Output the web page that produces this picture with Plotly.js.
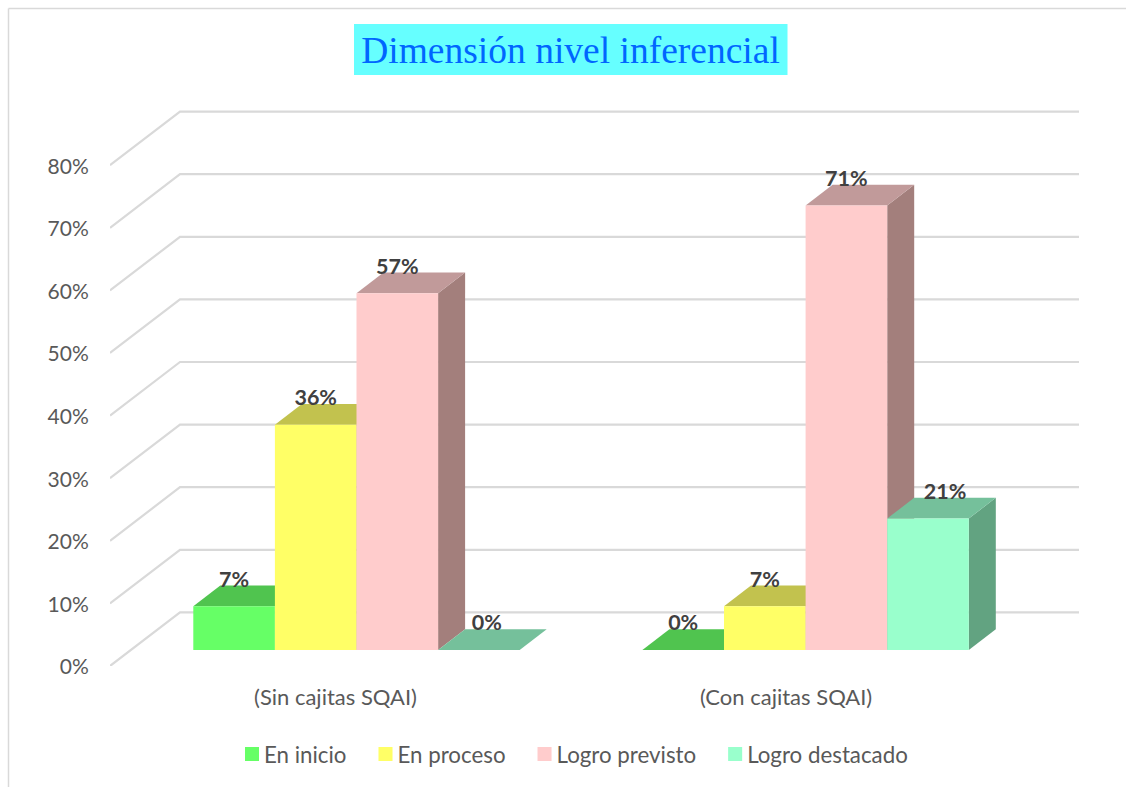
<!DOCTYPE html>
<html>
<head>
<meta charset="utf-8">
<script src="https://cdn.plot.ly/plotly-3.0.1.min.js"></script>
<style>html,body{margin:0;padding:0;background:#fff;overflow:hidden}#c{width:1126px;height:787px}</style>
</head>
<body>
<div id="c"></div>
<script>
// ---- data ----
const categories = ['(Sin cajitas SQAI)', '(Con cajitas SQAI)'];
const seriesNames = ['En inicio', 'En proceso', 'Logro previsto', 'Logro destacado'];
const enInicio = [7, 0];
const enProceso = [36, 7];
const logroPrevisto = [57, 71];
const logroDestacado = [0, 21];
const valueTicks = [0, 10, 20, 30, 40, 50, 60, 70, 80];

// ---- styles ----
const frontColors = ['#66FF66', '#FFFF66', '#FFCCCC', '#99FFCC'];
const topColors = ['#50C44F', '#C2C24E', '#C19A9A', '#75C09B'];
const sideColors = ['#3F9A3F', '#9A9A3F', '#A37F7C', '#62A381'];
const allSeries = [enInicio, enProceso, logroPrevisto, logroDestacado];

// ---- page geometry (px) and derived axis conversions ----
const W = 1126, H = 787;
const L = 110, R = 1090, T = 100, B = 666;
const pxPerPct = 6.26, pxPerCat = 449.1, cat0Px = 335.5;
const xRange = [(L - cat0Px) / pxPerCat, (R - cat0Px) / pxPerCat];
const yRange = [0, (B - T) / pxPerPct];
const dx = px => px / pxPerCat, dy = px => px / pxPerPct;
const paperX = px => (px - L) / (R - L);
const paperY = px => (B - px) / (B - T);

// oblique projection: a depth in px along x and the matching rise along y
const wallDepthX = dx(70), wallDepthY = dy(53.6);
const barFrontX = dx(21), barFrontY = dy(16);
const barDepthX = dx(27), barDepthY = dy(20.7);
const barW = dx(81.6);
const wallLeft = xRange[0], wallRight = dx(1079 - cat0Px);
const labelLift = dy(25);
const labelShiftX = [[0, 0], [0, 0], [0, 0], [dx(8), dx(17)]];

const barX = (c, s) => c + (s - 1.5) * barW + barFrontX;

const shapes = [];
// chart frame
const frame = {type: 'line', xref: 'paper', yref: 'paper', layer: 'below', line: {color: '#D9D9D9', width: 1.5}};
shapes.push(Object.assign({}, frame, {x0: paperX(8.5), x1: paperX(1126), y0: paperY(8.5), y1: paperY(8.5)}));
shapes.push(Object.assign({}, frame, {x0: paperX(8.5), x1: paperX(8.5), y0: paperY(8.5), y1: paperY(787)}));
// title box
shapes.push({type: 'rect', xref: 'paper', yref: 'paper', layer: 'below', line: {width: 0}, fillcolor: '#66FFFF',
  x0: paperX(354), x1: paperX(787.5), y0: paperY(75), y1: paperY(24)});
// walls
valueTicks.forEach(v => {
  shapes.push({type: 'path', layer: 'below', xref: 'x', yref: 'y', line: {color: '#D9D9D9', width: 2.2},
    path: `M${wallLeft},${v} L${wallLeft + wallDepthX},${v + wallDepthY} L${wallRight},${v + wallDepthY}`});
});
// side and top faces of every bar
const poly = pts => 'M' + pts.map(p => p.join(',')).join(' L') + ' Z';
allSeries.forEach((vals, s) => {
  vals.forEach((v, c) => {
    const x0 = barX(c, s) - barW / 2, x1 = barX(c, s) + barW / 2;
    const y0 = barFrontY, y1 = barFrontY + v;
    shapes.push({type: 'path', layer: 'below', xref: 'x', yref: 'y', line: {width: 0}, fillcolor: sideColors[s],
      path: poly([[x1, y0], [x1 + barDepthX, y0 + barDepthY], [x1 + barDepthX, y1 + barDepthY], [x1, y1]])});
    shapes.push({type: 'path', layer: 'below', xref: 'x', yref: 'y', line: {width: 0}, fillcolor: topColors[s],
      path: poly([[x0, y1], [x1, y1], [x1 + barDepthX, y1 + barDepthY], [x0 + barDepthX, y1 + barDepthY]])});
  });
});

// front faces
const traces = allSeries.map((vals, s) => ({
  type: 'bar', name: seriesNames[s],
  x: vals.map((v, c) => barX(c, s)),
  y: vals, base: vals.map(() => barFrontY), width: barW,
  marker: {color: frontColors[s], line: {width: 0}},
  hoverinfo: 'name+y'
}));
// data labels
allSeries.forEach((vals, s) => {
  traces.push({
    type: 'scatter', mode: 'text', showlegend: false, hoverinfo: 'skip',
    x: vals.map((v, c) => barX(c, s) + labelShiftX[s][c]),
    y: vals.map(v => barFrontY + v + labelLift),
    text: vals.map(v => v + '%'), textposition: 'middle center', cliponaxis: false,
    textfont: {family: 'Lato, sans-serif', size: 21.5, color: '#404040', weight: 700}
  });
});

const layout = {
  width: W, height: H, autosize: false,
  paper_bgcolor: '#FFFFFF', plot_bgcolor: 'rgba(0,0,0,0)',
  margin: {l: L, r: W - R, t: T, b: H - B, pad: 0},
  barmode: 'overlay',
  font: {family: 'Lato, sans-serif', color: '#595959', size: 20},
  title: {text: 'Dimensión nivel inferencial', font: {family: '"Liberation Serif", serif', size: 37.5, color: '#0066FF'},
    x: 570.5 / W, xref: 'container', xanchor: 'center', y: 1 - 50 / H, yref: 'container', yanchor: 'middle', pad: {t: 0, b: 0, l: 0, r: 0}},
  xaxis: {range: xRange, tickmode: 'array', tickvals: [0, 1 + dx(1.5)], ticktext: categories, showgrid: false, zeroline: false,
    showline: false, ticks: 'outside', ticklen: 12, tickcolor: 'rgba(0,0,0,0)', tickfont: {size: 22, color: '#595959'}},
  yaxis: {range: yRange, tickmode: 'array', tickvals: valueTicks, ticktext: valueTicks.map(v => v + '%'), showgrid: false, zeroline: false,
    showline: false, ticks: 'outside', ticklen: 16, tickcolor: 'rgba(0,0,0,0)', ticklabelshift: 1, tickfont: {size: 21, color: '#595959'}},
  legend: {orientation: 'h', x: paperX(218), xanchor: 'left', y: paperY(754), yanchor: 'middle', itemwidth: 36,
    font: {size: 22.3, color: '#595959'}, bgcolor: 'rgba(0,0,0,0)', traceorder: 'normal'},
  shapes: shapes,
  showlegend: true
};
Plotly.newPlot('c', traces, layout, {displayModeBar: false, staticPlot: true}).then(gd => {
  // bring each legend swatch next to its text and size it as in the reference
  gd.querySelectorAll('.legendpoints path').forEach(p => {
    p.setAttribute('transform', 'translate(34,0) scale(1.17)');
  });
});
</script>
</body>
</html>
